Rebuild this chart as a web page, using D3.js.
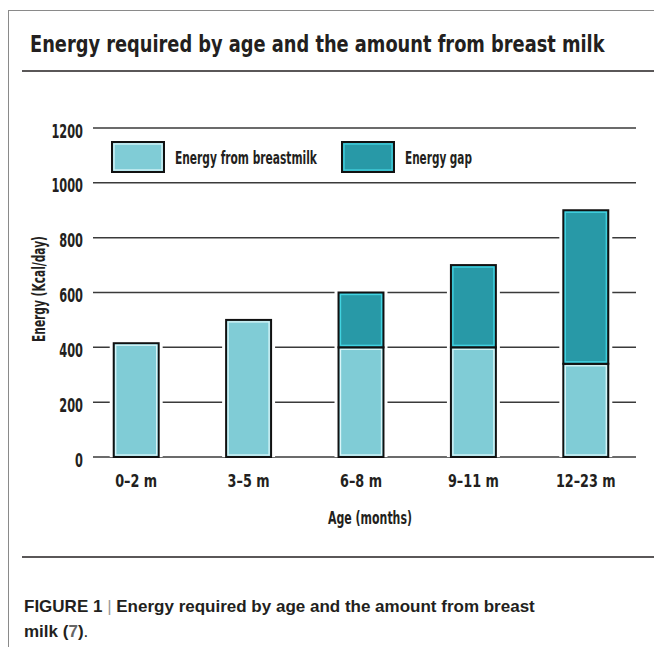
<!DOCTYPE html>
<html>
<head>
<meta charset="utf-8">
<script src="https://cdn.jsdelivr.net/npm/d3@7"></script>
<style>
  html, body { margin: 0; padding: 0; background: #fff; }
  svg { display: block; }
  .cond { font-family: "DejaVu Sans Condensed", "DejaVu Sans", sans-serif; font-weight: bold; fill: #231f20; }
  .cap { font-family: "Liberation Sans", Arial, sans-serif; fill: #231f20; }
</style>
</head>
<body>
<svg id="chart" width="654" height="647"></svg>
<script>
const categories = ["0–2 m", "3–5 m", "6–8 m", "9–11 m", "12–23 m"];
const breastmilk = [415, 500, 400, 400, 340];
const energyGap = [0, 0, 200, 300, 560];
const yTicks = [0, 200, 400, 600, 800, 1000, 1200];
const seriesNames = ["Energy from breastmilk", "Energy gap"];
const seriesKeys = ["breastmilk", "gap"];

const fills = { breastmilk: "#80ccd6", gap: "#2899a7" };
const highlights = { breastmilk: "#d9f6f9", gap: "#42d3e1" };

const svg = d3.select("#chart");

// squeeze a text horizontally to a target width (about its own x/y anchor)
function fitText(sel, x0, y0, target) {
  const w = sel.node().getComputedTextLength();
  const s = target / w;
  sel.attr("x", 0).attr("y", 0).attr("transform", `translate(${x0},${y0}) scale(${s},1)`);
  return s;
}

// frame
svg.append("line").attr("x1", 8).attr("x2", 654).attr("y1", 10.5).attr("y2", 10.5).attr("stroke", "#8a8a8a").attr("stroke-width", 1);
svg.append("line").attr("x1", 8.5).attr("x2", 8.5).attr("y1", 10).attr("y2", 647).attr("stroke", "#8a8a8a").attr("stroke-width", 1);

// title
const title = svg.append("text").attr("class", "cond").attr("font-size", 23)
  .text("Energy required by age and the amount from breast milk");
fitText(title, 30, 52, 575);
svg.append("line").attr("x1", 22).attr("x2", 654).attr("y1", 71).attr("y2", 71).attr("stroke", "#231f20").attr("stroke-width", 1.6);

// scales
const x = d3.scaleBand().domain(categories).range([80, 642]).paddingInner(0.6).paddingOuter(0.3);
const y = d3.scaleLinear().domain([0, 1200]).range([457, 128]);

// gridlines
svg.append("g").selectAll("line").data(yTicks).join("line")
  .attr("x1", 93).attr("x2", 636)
  .attr("y1", d => y(d)).attr("y2", d => y(d))
  .attr("stroke", "#3a3a3a").attr("stroke-width", 1.5);

// y axis tick labels
const yAxis = d3.axisLeft(y).tickValues(yTicks).tickSize(0).tickPadding(0).tickFormat(d3.format("d"));
const gy = svg.append("g").attr("transform", "translate(83,3)").call(yAxis);
gy.select(".domain").remove();
gy.attr("font-family", null).attr("font-size", null);
gy.selectAll("text").attr("class", "cond").attr("font-size", 19).attr("fill", "#231f20")
  .each(function (d) {
    const t = d3.select(this);
    const w = this.getComputedTextLength();
    const s = (String(d).length * 7.9) / w;
    t.attr("transform", `scale(${s},1)`);
  });

// stacked data
const table = categories.map((c, i) => ({ cat: c, breastmilk: breastmilk[i], gap: energyGap[i] }));
const stacked = d3.stack().keys(seriesKeys)(table);

// halo behind whole bar (breaks the gridlines)
svg.append("g").selectAll("rect").data(table).join("rect")
  .attr("x", d => x(d.cat) - 4)
  .attr("width", x.bandwidth() + 8)
  .attr("y", d => y(d.breastmilk + d.gap) - 4)
  .attr("height", d => y(0) - y(d.breastmilk + d.gap) + 4)
  .attr("fill", "#fff");

// bars
stacked.forEach(layer => {
  const key = layer.key;
  const g = svg.append("g");
  const segs = layer.filter(d => d[1] - d[0] > 0);
  g.selectAll("rect.seg").data(segs).join("rect").attr("class", "seg")
    .attr("x", d => x(d.data.cat))
    .attr("width", x.bandwidth())
    .attr("y", d => y(d[1]))
    .attr("height", d => y(d[0]) - y(d[1]))
    .attr("fill", fills[key])
    .attr("stroke", "#111").attr("stroke-width", 2);
  g.selectAll("rect.hl").data(segs).join("rect").attr("class", "hl")
    .attr("x", d => x(d.data.cat) + 2)
    .attr("width", x.bandwidth() - 4)
    .attr("y", d => y(d[1]) + 2)
    .attr("height", d => y(d[0]) - y(d[1]) - 4)
    .attr("fill", "none")
    .attr("stroke", highlights[key]).attr("stroke-width", 1.3);
});

// x axis labels
const xAxis = d3.axisBottom(x).tickSize(0).tickPadding(0);
const gx = svg.append("g").attr("transform", "translate(0,474)").call(xAxis);
gx.select(".domain").remove();
gx.attr("font-family", null).attr("font-size", null);
const xl = gx.selectAll("text").attr("class", "cond").attr("font-size", 18).attr("fill", "#231f20");
const xScaleFactor = 42 / xl.node().getComputedTextLength();
xl.attr("transform", `scale(${xScaleFactor},1)`);

// axis titles
const xt = svg.append("text").attr("class", "cond").attr("text-anchor", "middle").attr("font-size", 18).text("Age (months)");
fitText(xt, 370, 524, 84);
const yt = svg.append("text").attr("class", "cond").attr("text-anchor", "middle").attr("font-size", 17.5).text("Energy (Kcal/day)");
const ytw = yt.node().getComputedTextLength();
yt.attr("transform", `translate(45,289) rotate(-90) scale(${106 / ytw},1)`);

// legend
const legendX = [112, 342];
const legendW = [142, 67];
const legend = svg.append("g").selectAll("g").data(seriesKeys).join("g")
  .attr("transform", (d, i) => `translate(${legendX[i]},142)`);
legend.append("rect").attr("width", 52).attr("height", 30)
  .attr("fill", d => fills[d]).attr("stroke", "#111").attr("stroke-width", 2);
legend.append("rect").attr("x", 2).attr("y", 2).attr("width", 48).attr("height", 26)
  .attr("fill", "none").attr("stroke", d => highlights[d]).attr("stroke-width", 1.3);
legend.append("text").attr("class", "cond").attr("font-size", 17)
  .text((d, i) => seriesNames[i])
  .each(function (d, i) { fitText(d3.select(this), 63, 21.5, legendW[i]); });

// bottom rule
svg.append("line").attr("x1", 22).attr("x2", 654).attr("y1", 557).attr("y2", 557).attr("stroke", "#231f20").attr("stroke-width", 1.6);

// caption
const c1 = svg.append("text").attr("class", "cap").attr("x", 24).attr("y", 612).attr("font-size", 17).attr("font-weight", "bold");
c1.append("tspan").text("FIGURE 1 ");
c1.append("tspan").attr("font-weight", "normal").attr("fill", "#9a9a9a").text("|");
c1.append("tspan").text(" Energy required by age and the amount from breast");
const c2 = svg.append("text").attr("class", "cap").attr("x", 24).attr("y", 637).attr("font-size", 17).attr("font-weight", "bold");
c2.append("tspan").text("milk (");
c2.append("tspan").attr("fill", "#666").text("7");
c2.append("tspan").text(")");
c2.append("tspan").attr("font-weight", "normal").text(".");
</script>
</body>
</html>
